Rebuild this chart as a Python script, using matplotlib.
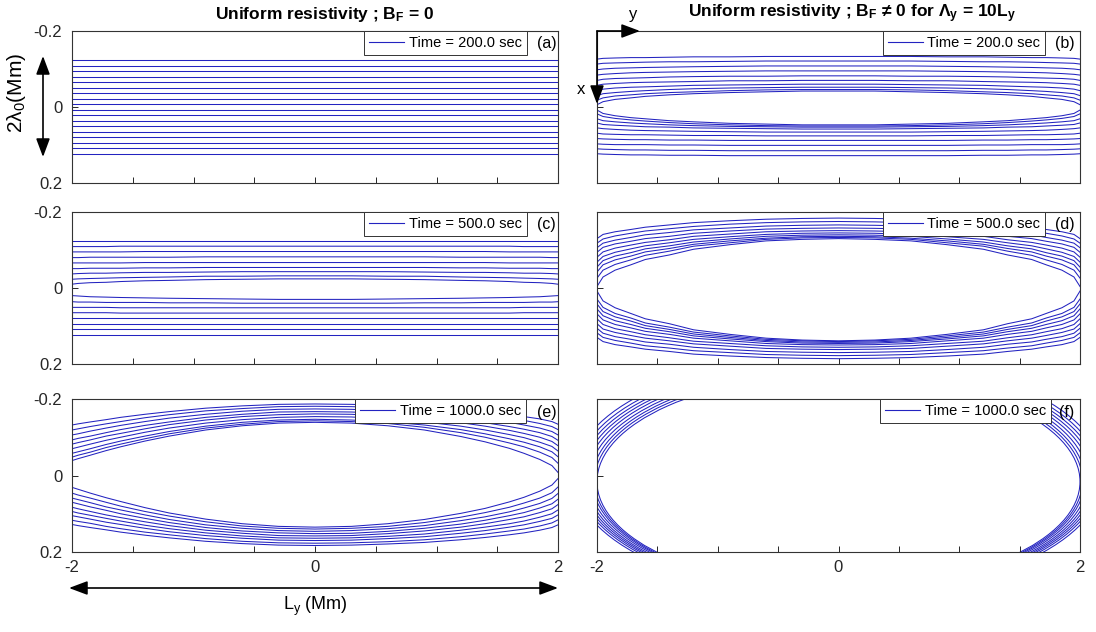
import numpy as np
import matplotlib
matplotlib.use('Agg')
import matplotlib.pyplot as plt
from matplotlib.lines import Line2D
from matplotlib.patches import Ellipse, FancyArrowPatch

plt.rcParams['font.family'] = ['Liberation Sans', 'DejaVu Sans']
plt.rcParams['mathtext.fontset'] = 'custom'
plt.rcParams['mathtext.rm'] = 'Liberation Sans'
plt.rcParams['mathtext.it'] = 'Liberation Sans:italic'
plt.rcParams['mathtext.bf'] = 'Liberation Sans:bold'

BLUE = '#2323c0'
DARK = '#262626'

# ---------------- data ----------------
# x samples from -2 to the centre; symmetric panels are mirrored
x_half = np.array([-2, -1.95, -1.85, -1.72, -1.6, -1.4, -1.2, -0.9, -0.6, -0.3, 0])
x_full = np.array([-2, -1.95, -1.85, -1.72, -1.6, -1.4, -1.2, -0.9, -0.6, -0.3, 0,
                   0.3, 0.6, 0.9, 1.2, 1.4, 1.6, 1.72, 1.85, 1.95, 2])

# (a) t = 200 s, B_F = 0 : flat field lines
levels_a = [-0.123, -0.1085, -0.094, -0.0796, -0.0651, -0.0507, -0.0362, -0.0217, -0.0072,
            0.0072, 0.0217, 0.0362, 0.0507, 0.0651, 0.0796, 0.094, 0.1085, 0.123]

# (b) t = 200 s, B_F != 0 (half profiles, x = -2 .. 0)
lines_b = [
    [-0.126, -0.128, -0.129, -0.130, -0.130, -0.131, -0.132, -0.132, -0.133, -0.133, -0.133],
    [-0.113, -0.115, -0.116, -0.117, -0.118, -0.119, -0.119, -0.120, -0.121, -0.121, -0.121],
    [-0.098, -0.100, -0.102, -0.103, -0.104, -0.105, -0.106, -0.107, -0.108, -0.108, -0.108],
    [-0.084, -0.086, -0.088, -0.090, -0.091, -0.092, -0.093, -0.094, -0.095, -0.095, -0.095],
    [-0.070, -0.073, -0.075, -0.076, -0.077, -0.079, -0.080, -0.081, -0.081, -0.082, -0.082],
    [-0.057, -0.060, -0.062, -0.064, -0.065, -0.066, -0.067, -0.069, -0.069, -0.070, -0.070],
    [-0.043, -0.047, -0.050, -0.052, -0.053, -0.055, -0.057, -0.058, -0.059, -0.060, -0.060],
    [-0.030, -0.035, -0.038, -0.041, -0.043, -0.046, -0.048, -0.050, -0.051, -0.052, -0.052],
    [-0.018, -0.024, -0.029, -0.032, -0.035, -0.038, -0.040, -0.043, -0.045, -0.046, -0.046],
    [-0.006, -0.014, -0.020, -0.024, -0.028, -0.032, -0.035, -0.038, -0.040, -0.042, -0.042],
    [0.008, 0.017, 0.023, 0.028, 0.031, 0.036, 0.039, 0.043, 0.045, 0.047, 0.047],
    [0.018, 0.025, 0.030, 0.034, 0.037, 0.041, 0.044, 0.047, 0.049, 0.050, 0.050],
    [0.031, 0.036, 0.039, 0.042, 0.044, 0.047, 0.049, 0.051, 0.052, 0.053, 0.053],
    [0.042, 0.046, 0.048, 0.050, 0.052, 0.053, 0.055, 0.056, 0.057, 0.058, 0.058],
    [0.055, 0.057, 0.059, 0.061, 0.062, 0.063, 0.064, 0.065, 0.066, 0.066, 0.066],
    [0.069, 0.071, 0.072, 0.073, 0.073, 0.074, 0.075, 0.075, 0.076, 0.076, 0.076],
    [0.083, 0.084, 0.085, 0.086, 0.086, 0.087, 0.087, 0.088, 0.088, 0.088, 0.088],
    [0.097, 0.098, 0.099, 0.099, 0.099, 0.100, 0.100, 0.101, 0.101, 0.101, 0.101],
    [0.110, 0.111, 0.112, 0.113, 0.113, 0.114, 0.114, 0.115, 0.115, 0.115, 0.115],
    [0.123, 0.124, 0.125, 0.126, 0.126, 0.127, 0.127, 0.128, 0.128, 0.128, 0.128],
]

# (c) t = 500 s, B_F = 0
lines_c = [
    [-0.124, -0.124, -0.124, -0.124, -0.124, -0.124, -0.124, -0.124, -0.124, -0.124, -0.124],
    [-0.109, -0.109, -0.109, -0.109, -0.110, -0.110, -0.110, -0.110, -0.110, -0.110, -0.110],
    [-0.095, -0.095, -0.095, -0.095, -0.095, -0.096, -0.096, -0.096, -0.096, -0.096, -0.096],
    [-0.080, -0.080, -0.081, -0.081, -0.081, -0.081, -0.081, -0.082, -0.082, -0.082, -0.082],
    [-0.066, -0.066, -0.066, -0.066, -0.066, -0.067, -0.067, -0.067, -0.067, -0.067, -0.067],
    [-0.051, -0.051, -0.052, -0.052, -0.052, -0.053, -0.053, -0.054, -0.054, -0.054, -0.054],
    [-0.037, -0.038, -0.039, -0.039, -0.040, -0.041, -0.041, -0.042, -0.043, -0.043, -0.043],
    [-0.023, -0.024, -0.025, -0.026, -0.027, -0.028, -0.029, -0.031, -0.031, -0.032, -0.032],
    [-0.010, -0.012, -0.014, -0.015, -0.017, -0.019, -0.020, -0.022, -0.023, -0.024, -0.024],
    [0.020, 0.021, 0.023, 0.024, 0.025, 0.026, 0.027, 0.028, 0.029, 0.030, 0.030],
    [0.036, 0.037, 0.037, 0.038, 0.038, 0.038, 0.039, 0.039, 0.040, 0.040, 0.040],
    [0.051, 0.051, 0.051, 0.051, 0.052, 0.052, 0.052, 0.052, 0.052, 0.052, 0.052],
    [0.065, 0.065, 0.065, 0.065, 0.066, 0.066, 0.066, 0.066, 0.066, 0.066, 0.066],
    [0.079, 0.079, 0.079, 0.079, 0.079, 0.079, 0.079, 0.079, 0.079, 0.079, 0.079],
    [0.094, 0.094, 0.094, 0.094, 0.094, 0.094, 0.094, 0.094, 0.094, 0.094, 0.094],
    [0.108, 0.108, 0.108, 0.108, 0.108, 0.108, 0.108, 0.108, 0.108, 0.108, 0.108],
    [0.123, 0.123, 0.123, 0.123, 0.123, 0.123, 0.123, 0.123, 0.123, 0.123, 0.123],
]

# (d) t = 500 s, B_F != 0
lines_d = [
    [-0.130, -0.141, -0.148, -0.154, -0.160, -0.166, -0.172, -0.177, -0.181, -0.183, -0.184],
    [-0.118, -0.129, -0.137, -0.144, -0.150, -0.156, -0.162, -0.168, -0.172, -0.174, -0.175],
    [-0.106, -0.118, -0.126, -0.133, -0.140, -0.146, -0.153, -0.158, -0.163, -0.165, -0.166],
    [-0.094, -0.107, -0.116, -0.123, -0.130, -0.136, -0.144, -0.150, -0.155, -0.157, -0.158],
    [-0.081, -0.095, -0.105, -0.113, -0.120, -0.127, -0.136, -0.142, -0.148, -0.150, -0.151],
    [-0.068, -0.083, -0.094, -0.103, -0.111, -0.119, -0.128, -0.135, -0.141, -0.144, -0.145],
    [-0.055, -0.072, -0.084, -0.093, -0.103, -0.111, -0.121, -0.129, -0.136, -0.139, -0.140],
    [-0.042, -0.061, -0.074, -0.084, -0.095, -0.104, -0.115, -0.124, -0.131, -0.135, -0.136],
    [-0.026, -0.047, -0.062, -0.074, -0.086, -0.097, -0.110, -0.119, -0.128, -0.132, -0.133],
    [-0.004, -0.029, -0.047, -0.061, -0.075, -0.087, -0.102, -0.114, -0.124, -0.128, -0.130],
    [0.008, 0.034, 0.052, 0.067, 0.081, 0.094, 0.110, 0.122, 0.132, 0.137, 0.139],
    [0.029, 0.051, 0.067, 0.079, 0.092, 0.103, 0.116, 0.126, 0.135, 0.139, 0.141],
    [0.042, 0.062, 0.076, 0.087, 0.099, 0.109, 0.121, 0.130, 0.138, 0.142, 0.143],
    [0.055, 0.073, 0.086, 0.096, 0.106, 0.115, 0.126, 0.134, 0.141, 0.145, 0.146],
    [0.068, 0.084, 0.096, 0.105, 0.114, 0.122, 0.132, 0.139, 0.146, 0.149, 0.150],
    [0.081, 0.096, 0.107, 0.115, 0.123, 0.131, 0.140, 0.146, 0.152, 0.155, 0.156],
    [0.094, 0.108, 0.117, 0.125, 0.132, 0.139, 0.147, 0.153, 0.159, 0.161, 0.162],
    [0.106, 0.119, 0.128, 0.135, 0.142, 0.148, 0.156, 0.162, 0.167, 0.169, 0.170],
    [0.118, 0.130, 0.138, 0.145, 0.152, 0.158, 0.165, 0.170, 0.175, 0.177, 0.178],
    [0.130, 0.141, 0.149, 0.155, 0.161, 0.167, 0.174, 0.179, 0.183, 0.185, 0.186],
]

# (e) t = 1000 s, B_F = 0 (full profiles, x = -2 .. 2)
lines_e = [
    [-0.132, -0.135, -0.140, -0.146, -0.152, -0.160, -0.167, -0.176, -0.182, -0.186, -0.187,
     -0.186, -0.183, -0.179, -0.172, -0.166, -0.159, -0.154, -0.148, -0.141, -0.134],
    [-0.119, -0.122, -0.128, -0.135, -0.141, -0.151, -0.159, -0.169, -0.175, -0.180, -0.181,
     -0.180, -0.177, -0.172, -0.164, -0.157, -0.149, -0.144, -0.136, -0.128, -0.120],
    [-0.106, -0.109, -0.116, -0.124, -0.131, -0.141, -0.150, -0.160, -0.168, -0.173, -0.174,
     -0.173, -0.169, -0.164, -0.155, -0.148, -0.139, -0.132, -0.124, -0.115, -0.106],
    [-0.093, -0.097, -0.103, -0.112, -0.120, -0.131, -0.140, -0.152, -0.160, -0.166, -0.167,
     -0.166, -0.162, -0.155, -0.146, -0.138, -0.128, -0.121, -0.112, -0.102, -0.092],
    [-0.082, -0.086, -0.093, -0.103, -0.110, -0.122, -0.133, -0.145, -0.154, -0.159, -0.161,
     -0.160, -0.155, -0.148, -0.138, -0.129, -0.118, -0.110, -0.100, -0.089, -0.078],
    [-0.070, -0.074, -0.082, -0.092, -0.100, -0.113, -0.124, -0.137, -0.146, -0.152, -0.154,
     -0.153, -0.148, -0.140, -0.129, -0.119, -0.107, -0.099, -0.087, -0.076, -0.064],
    [-0.058, -0.062, -0.070, -0.081, -0.090, -0.103, -0.115, -0.129, -0.139, -0.145, -0.147,
     -0.145, -0.140, -0.132, -0.120, -0.109, -0.096, -0.087, -0.075, -0.062, -0.049],
    [-0.048, -0.053, -0.061, -0.073, -0.082, -0.096, -0.109, -0.124, -0.134, -0.141, -0.143,
     -0.141, -0.136, -0.126, -0.112, -0.100, -0.085, -0.075, -0.061, -0.047, -0.032],
    [-0.039, -0.044, -0.053, -0.065, -0.075, -0.090, -0.103, -0.119, -0.130, -0.137, -0.139,
     -0.137, -0.130, -0.119, -0.102, -0.088, -0.071, -0.058, -0.042, -0.026, -0.008],
    [0.031, 0.036, 0.046, 0.058, 0.068, 0.084, 0.098, 0.114, 0.126, 0.133, 0.135,
     0.133, 0.126, 0.115, 0.099, 0.086, 0.069, 0.057, 0.041, 0.025, 0.008],
    [0.046, 0.051, 0.059, 0.070, 0.080, 0.094, 0.106, 0.121, 0.132, 0.138, 0.140,
     0.138, 0.133, 0.123, 0.109, 0.097, 0.083, 0.072, 0.059, 0.045, 0.030],
    [0.059, 0.063, 0.071, 0.082, 0.090, 0.103, 0.115, 0.129, 0.138, 0.144, 0.146,
     0.144, 0.139, 0.131, 0.118, 0.108, 0.095, 0.085, 0.073, 0.060, 0.047],
    [0.070, 0.074, 0.082, 0.091, 0.100, 0.112, 0.123, 0.136, 0.145, 0.150, 0.152,
     0.151, 0.146, 0.138, 0.127, 0.117, 0.105, 0.097, 0.085, 0.074, 0.062],
    [0.083, 0.087, 0.094, 0.103, 0.110, 0.121, 0.131, 0.143, 0.151, 0.157, 0.158,
     0.157, 0.152, 0.145, 0.135, 0.126, 0.115, 0.108, 0.097, 0.087, 0.076],
    [0.094, 0.098, 0.104, 0.112, 0.119, 0.130, 0.139, 0.150, 0.158, 0.163, 0.164,
     0.163, 0.159, 0.153, 0.143, 0.135, 0.126, 0.119, 0.109, 0.100, 0.090],
    [0.105, 0.108, 0.114, 0.122, 0.128, 0.138, 0.147, 0.157, 0.164, 0.169, 0.170,
     0.169, 0.165, 0.160, 0.151, 0.144, 0.135, 0.129, 0.120, 0.112, 0.103],
    [0.117, 0.120, 0.125, 0.133, 0.139, 0.148, 0.155, 0.165, 0.172, 0.176, 0.177,
     0.176, 0.173, 0.168, 0.160, 0.153, 0.145, 0.140, 0.132, 0.124, 0.116],
    [0.128, 0.131, 0.136, 0.142, 0.148, 0.156, 0.163, 0.172, 0.178, 0.182, 0.183,
     0.182, 0.179, 0.175, 0.168, 0.162, 0.155, 0.150, 0.143, 0.136, 0.129],
]

# (f) t = 1000 s, B_F != 0 : closed islands larger than the box
f_yc = [0.016, 0.014, 0.012, 0.010, 0.008, 0.006, 0.004, 0.002, 0.000]   # centre (Mm)
f_ay = [2.000, 2.020, 2.040, 2.065, 2.090, 2.115, 2.140, 2.165, 2.194]   # half length along L_y
f_bx = [0.280, 0.284, 0.288, 0.292, 0.297, 0.301, 0.305, 0.310, 0.316]   # half width along x

times = ['200.0', '200.0', '500.0', '500.0', '1000.0', '1000.0']
tags = ['(a)', '(b)', '(c)', '(d)', '(e)', '(f)']
xticks = [-2, -1.5, -1, -0.5, 0, 0.5, 1, 1.5, 2]
xticklabels = ['-2', '', '', '', '0', '', '', '', '2']
yticks = [-0.2, 0, 0.2]
yticklabels = ['-0.2', '0', '0.2']

# ---------------- figure ----------------
W, H = 1096, 632
fig = plt.figure(figsize=(W / 100, H / 100), dpi=100)


def px(x, y):
    return (x / W, 1 - y / H)


cols = [(72, 558), (597, 1080)]
rows = [(31, 183), (212, 364), (399, 552)]
leg_x = [0.936, 0.928, 0.936, 0.928, 0.934, 0.94]
tag_x = [0.977, 0.969, 0.977, 0.969, 0.977, 0.972]

axes = []
for i in range(6):
    r, c = divmod(i, 2)
    x0, x1 = cols[c]
    y0, y1 = rows[r]
    ax = fig.add_axes([x0 / W, 1 - y1 / H, (x1 - x0) / W, (y1 - y0) / H])
    axes.append(ax)

    ax.set_xlim(-2, 2)
    ax.set_ylim(0.2, -0.2)
    ax.set_xticks(xticks)
    ax.set_yticks(yticks)
    ax.set_xticklabels(xticklabels if r == 2 else [''] * len(xticks))
    ax.set_yticklabels(yticklabels if c == 0 else [''] * len(yticks))
    ax.tick_params(direction='in', length=4, width=0.7, colors=DARK,
                   labelsize=12, top=False, right=False)
    ax.tick_params(axis='y', pad=7)
    ax.tick_params(axis='x', pad=6)
    for s in ax.spines.values():
        s.set_color('#333333')
        s.set_linewidth(0.8)

    leg = ax.legend([Line2D([], [], color=BLUE, lw=0.8)], ['Time = %s sec' % times[i]],
                    loc='upper right', bbox_to_anchor=(leg_x[i], 1.0), borderaxespad=0,
                    fancybox=False, framealpha=1, edgecolor='#333333', fontsize=10.5,
                    handlelength=2.4, handletextpad=0.3, borderpad=0.35)
    leg.get_frame().set_linewidth(0.7)
    ax.text(tag_x[i], 0.915, tags[i], transform=ax.transAxes, ha='center', va='center',
            fontsize=11.5, color='black')

lw = 0.75
# (a)
for v in levels_a:
    axes[0].axhline(v, color=BLUE, lw=lw)
# (b), (c), (d): mirrored half profiles
x_sym = np.concatenate([x_half, -x_half[-2::-1]])
for ax, lines in [(axes[1], lines_b), (axes[2], lines_c), (axes[3], lines_d)]:
    for h in lines:
        h = np.array(h)
        ax.plot(x_sym, np.concatenate([h, h[-2::-1]]), color=BLUE, lw=lw)
# (e)
for ln in lines_e:
    axes[4].plot(x_full, ln, color=BLUE, lw=lw)
# (f)
for yc, a, b in zip(f_yc, f_ay, f_bx):
    axes[5].add_patch(Ellipse((0, yc), 2 * a, 2 * b, fill=False, edgecolor=BLUE, lw=lw))

# ---------------- annotations ----------------
fig.text(*px(325, 14), r'Uniform resistivity ; B$_{\mathbf{F}}$ = 0', ha='center', va='center',
         fontsize=12.5, fontweight='bold')
fig.text(*px(852, 14), r'Uniform resistivity ; B$_{\mathbf{F}}$ ≠ 0 for Λ$_{\mathbf{y}}$ = 10L$_{\mathbf{y}}$',
         ha='center', va='center', fontsize=12.5, fontweight='bold')
fig.text(*px(17, 93), '2λ$_0$(Mm)', rotation=90, ha='center', va='center', fontsize=15)
fig.text(*px(315, 606), r'L$_\mathrm{y}$ (Mm)', ha='center', va='center', fontsize=13)


def arrow(p0, p1, style):
    fig.add_artist(FancyArrowPatch(px(*p0), px(*p1), transform=fig.transFigure,
                                   arrowstyle=style, mutation_scale=14, color='black',
                                   lw=1.2, shrinkA=0, shrinkB=0))


both = '<|-|>,head_length=0.8,head_width=0.3'
one = '-|>,head_length=0.8,head_width=0.3'
arrow((43, 56), (43, 157), both)
arrow((69, 588), (558, 588), both)
arrow((597, 31), (640, 31), one)
arrow((597, 31), (597, 104), one)
fig.text(*px(633, 15), 'y', ha='center', va='center', fontsize=12)
fig.text(*px(581, 90), 'x', ha='center', va='center', fontsize=12)

fig.savefig('out.png', dpi=100, facecolor='white')
